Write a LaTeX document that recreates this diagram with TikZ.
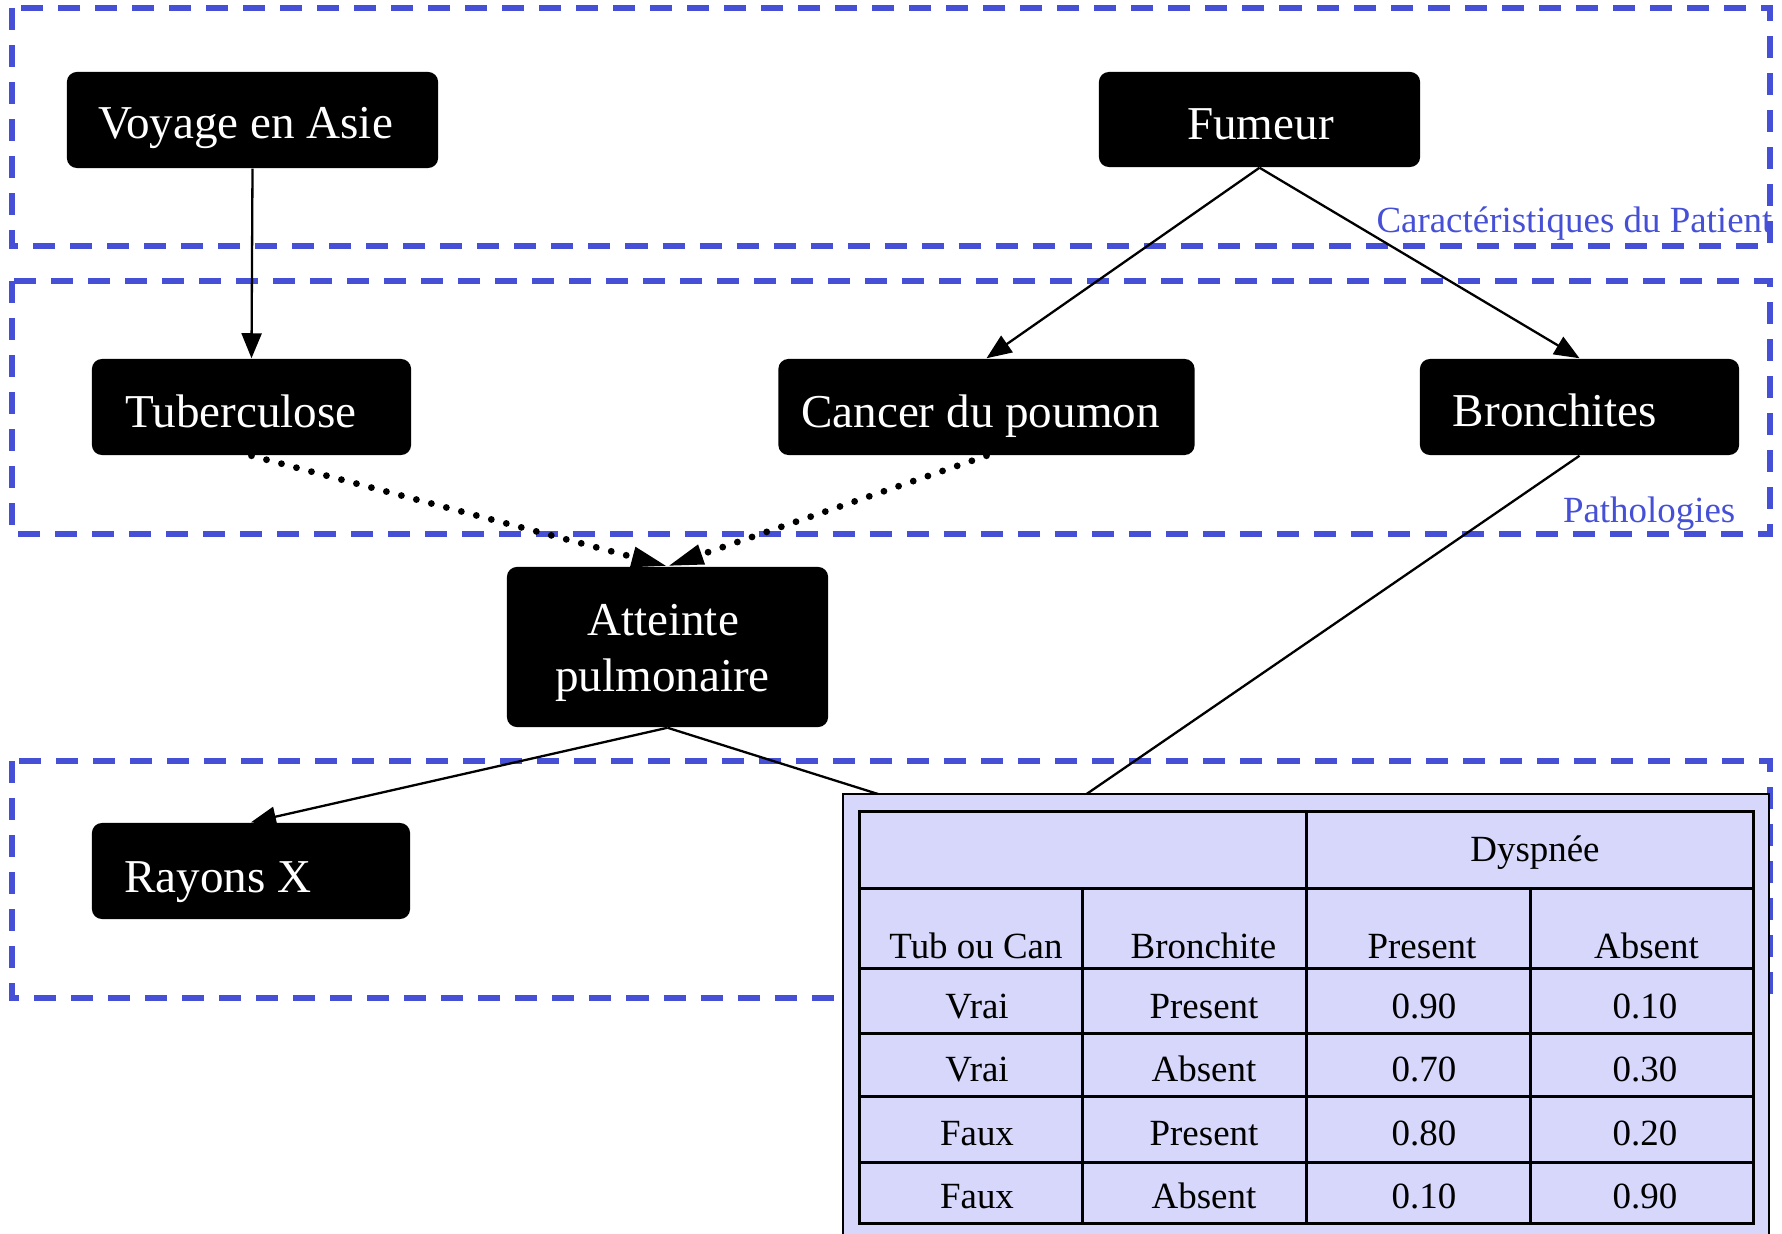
\documentclass[tikz,border=0pt]{standalone}
\usepackage{fontspec}
\setmainfont{Liberation Serif}
\usetikzlibrary{arrows.meta,calc}
\definecolor{groupblue}{RGB}{70,80,215}
\definecolor{cptfill}{RGB}{214,215,250}
\begin{document}
\begin{tikzpicture}[x=0.01cm,y=-0.01cm,
  group/.style={draw=groupblue, line width=0.052cm, dash pattern=on 0.22cm off 0.15cm},
  grouplabel/.style={text=groupblue, font=\fontsize{10.5}{12}\selectfont, inner sep=0pt, anchor=base east},
  varbox/.style={fill=black, rounded corners=0.1cm, inner sep=0pt, minimum height=0.96cm},
  varname/.style={text=white, font=\fontsize{13.4}{16}\selectfont, inner sep=0pt, anchor=base},
  link/.style={draw=black, line width=0.023cm, -{Triangle[length=0.25cm,width=0.2cm]}},
  plainlink/.style={draw=black, line width=0.023cm},
  dotlink/.style={draw=black, line width=0.068cm, line cap=round, dash pattern=on 0pt off 0.155cm,
    -{Triangle[length=0.36cm,width=0.19cm]}},
  cpt/.style={font=\fontsize{10.5}{12}\selectfont, inner sep=0pt, anchor=base},
  gridline/.style={draw=black, line width=0.03cm},
]

\useasboundingbox (0,0) rectangle (1782,1234);
\clip (0,0) rectangle (1782,1234);
\fill[white] (0,0) rectangle (1782,1234);

% cluster frames
\draw[group] (12,8) rectangle (1770,246);
\draw[group] (12,281) rectangle (1770,534);
\draw[group] (12,761) rectangle (1770,998);
\node[grouplabel] (lblpatient) at (1773,233) {Caractéristiques du Patient};
\node[grouplabel] (lblpatho) at (1736,523) {Pathologies};

% variable boxes
\node[varbox, minimum width=3.71cm] (voyage) at (252.5,120) {};
\node[varbox, minimum width=3.21cm, minimum height=0.95cm] (fumeur) at (1259.5,119.5) {};
\node[varbox, minimum width=3.19cm] (tub) at (251.5,407) {};
\node[varbox, minimum width=4.16cm] (cancer) at (986.5,407) {};
\node[varbox, minimum width=3.19cm] (bronch) at (1579.5,407) {};
\node[varbox, minimum width=3.21cm, minimum height=1.6cm] (atteinte) at (667.5,647) {};
\node[varbox, minimum width=3.18cm] (rayons) at (251,871) {};
\coordinate (dyspnee) at (1021,839);

% variable names
\node[varname] (tvoyage) at (245.5,139) {Voyage en Asie};
\node[varname] (tfumeur) at (1260.5,140) {Fumeur};
\node[varname] (ttub) at (241,428) {Tuberculose};
\node[varname] (tcancer) at (980.5,428) {Cancer du poumon};
\node[varname] (tbronch) at (1555,427) {Bronchites};
\node[varname] (tatt1) at (663,636) {Atteinte};
\node[varname] (tatt2) at (662.5,692) {pulmonaire};
\node[varname] (trayons) at (218,892) {Rayons X};

% dependencies
\draw[link] (voyage.south) -- (tub.north);
\draw[link] (fumeur.south) -- (cancer.north);
\draw[link] (fumeur.south) -- (bronch.north);
\draw[dotlink] (tub.south) -- (atteinte.north);
\draw[dotlink] (cancer.south) -- (atteinte.north);
\draw[link] (atteinte.south) -- (rayons.north);
\draw[plainlink] (atteinte.south) -- (dyspnee);
\draw[plainlink] (bronch.south) -- (dyspnee);

% conditional probability table
\filldraw[fill=cptfill, draw=black, line width=0.025cm] (843,794) rectangle (1769,1300);
\draw[gridline] (859,811) rectangle (1753,1223);
\foreach \yy in {888,968,1033,1096,1162}
  \draw[gridline] (859,\yy) -- (1753,\yy);
\draw[gridline] (1306,811) -- (1306,1223);
\draw[gridline] (1082,888) -- (1082,1223);
\draw[gridline] (1530,888) -- (1530,1223);

\node[cpt] (hdysp) at (1535,861) {Dyspnée};
\node[cpt] (htub) at (976,958) {Tub ou Can};
\node[cpt] (hbron) at (1203.5,958) {Bronchite};
\node[cpt] (hpres) at (1422,958) {Present};
\node[cpt] (habs) at (1646.5,958) {Absent};

\node[cpt] (r1a) at (977,1018) {Vrai};
\node[cpt] (r1b) at (1204,1018) {Present};
\node[cpt] (r1c) at (1424,1018) {0.90};
\node[cpt] (r1d) at (1645,1018) {0.10};

\node[cpt] (r2a) at (977,1081) {Vrai};
\node[cpt] (r2b) at (1204,1081) {Absent};
\node[cpt] (r2c) at (1424,1081) {0.70};
\node[cpt] (r2d) at (1645,1081) {0.30};

\node[cpt] (r3a) at (977,1145) {Faux};
\node[cpt] (r3b) at (1204,1145) {Present};
\node[cpt] (r3c) at (1424,1145) {0.80};
\node[cpt] (r3d) at (1645,1145) {0.20};

\node[cpt] (r4a) at (977,1208) {Faux};
\node[cpt] (r4b) at (1204,1208) {Absent};
\node[cpt] (r4c) at (1424,1208) {0.10};
\node[cpt] (r4d) at (1645,1208) {0.90};

\end{tikzpicture}
\end{document}
